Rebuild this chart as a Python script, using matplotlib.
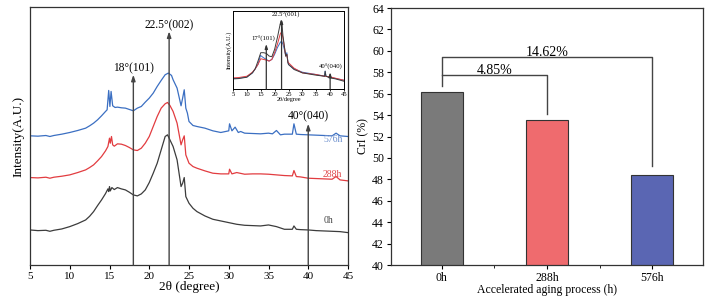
import matplotlib
matplotlib.use("Agg")
import matplotlib.pyplot as plt
from matplotlib.ticker import MultipleLocator, FixedLocator

plt.rcParams['font.family'] = ['Liberation Serif', 'DejaVu Serif']
plt.rcParams['mathtext.fontset'] = 'stix'

# ---------------- XRD data (arbitrary units) ----------------
x_0h = [5, 6, 7, 7.5, 8, 9, 10, 11, 12, 12.5, 13, 13.5, 14, 14.5, 14.8, 14.9, 15.0, 15.1, 15.3, 15.6, 16, 16.5, 17,
        17.5, 18, 18.5, 19, 19.5, 20, 20.5, 21, 21.5, 22, 22.3, 22.6, 23, 23.5, 24, 24.2, 24.4, 24.6, 25, 25.5, 26, 27,
        28, 29, 30, 31, 32, 33, 34, 35, 36, 37, 38, 38.2, 38.5, 39, 40, 41, 42, 43, 44, 45]
y_0h = [105, 103, 104, 101, 104, 108, 115, 124, 135, 146, 160, 178, 195, 214, 228, 220, 235, 222, 232, 226, 232, 228, 225,
        218, 210, 207, 213, 225, 247, 275, 305, 345, 385, 390, 375, 355, 315, 235, 245, 262, 205, 185, 170, 160, 147,
        137, 132, 127, 122, 119, 118, 117, 120, 115, 107, 107, 117, 107, 106, 105, 103, 102, 101, 100, 97]

x_288h = [5, 6, 7, 7.5, 8, 9, 10, 11, 12, 12.5, 13, 13.5, 14, 14.5, 14.8, 15.0, 15.1, 15.25, 15.4, 15.6, 16, 16.5, 17,
          17.5, 18, 18.5, 19, 19.5, 20, 20.5, 21, 21.5, 22, 22.3, 22.6, 23, 23.5, 24, 24.2, 24.4, 24.6, 25, 25.5, 26, 27,
          28, 29, 30, 30.1, 30.4, 31, 32, 33, 34, 35, 36, 37, 38, 38.2, 38.5, 39, 40, 41, 42, 43, 43.5, 44, 45]
y_288h = [262, 261, 263, 260, 263, 266, 270, 277, 285, 292, 300, 312, 325, 342, 355, 380, 365, 385, 360, 356, 363, 362, 358,
          352, 345, 343, 350, 365, 385, 415, 445, 470, 483, 487, 478, 460, 425, 360, 375, 387, 330, 305, 295, 290, 282,
          275, 273, 273, 287, 273, 277, 272, 273, 273, 272, 270, 268, 267, 283, 265, 264, 260, 259, 258, 257, 265, 255, 252]

x_576h = [5, 6, 7, 7.5, 8, 9, 10, 11, 12, 12.5, 13, 13.5, 14, 14.5, 14.7, 14.9, 15.05, 15.2, 15.4, 15.7, 16, 16.5, 17,
          17.5, 18, 18.5, 19, 19.5, 20, 20.5, 21, 21.5, 22, 22.4, 22.8, 23, 23.5, 24, 24.2, 24.4, 24.6, 24.8, 25, 25.5,
          26, 27, 28, 29, 30, 30.1, 30.4, 30.8, 31.2, 31.5, 32, 33, 34, 35, 35.5, 36, 36.5, 37, 38, 38.2, 38.5, 39, 40,
          41, 42, 43, 43.5, 44, 45]
y_576h = [387, 386, 388, 385, 388, 392, 397, 403, 410, 417, 425, 435, 447, 460, 465, 523, 475, 520, 477, 472, 473, 471, 470,
          466, 462, 470, 475, 488, 500, 515, 535, 553, 570, 575, 568, 555, 530, 477, 500, 525, 470, 455, 430, 418,
          415, 410, 402, 397, 402, 423, 402, 413, 397, 400, 395, 394, 393, 395, 393, 403, 390, 392, 392, 423, 392, 391, 390,
          389, 388, 387, 395, 387, 385]

# inset data (arbitrary units)
xi_0h = [5, 7, 10, 12, 13, 14, 14.8, 15, 16, 17, 18, 19, 20, 21, 22, 22.3, 22.6, 23, 23.5, 24, 24.4, 24.8, 25, 27, 30,
         35, 38, 38.2, 38.5, 40, 42, 45]
yi_0h = [30, 31, 35, 48, 60, 83, 103, 108, 108, 106, 98, 96, 118, 153, 193, 203, 198, 158, 128, 98, 103, 78, 73, 58, 48,
         41, 38, 53, 38, 33, 30, 23]
xi_288h = [5, 7, 10, 12, 13, 14, 15, 16, 17, 18, 19, 20, 21, 22, 22.5, 23, 23.5, 24, 24.4, 24.8, 25, 27, 30, 35, 38, 40,
           42, 45]
yi_288h = [33, 34, 38, 50, 60, 73, 90, 88, 86, 83, 88, 108, 133, 163, 170, 153, 125, 98, 103, 80, 78, 62, 48, 43, 38, 36,
           32, 26]
xi_576h = [5, 7, 10, 12, 13, 14, 14.9, 15.2, 16, 17, 18, 19, 20, 21, 22, 22.5, 23, 23.5, 24, 24.4, 24.8, 25, 27, 30, 35,
           38, 38.2, 38.5, 40, 42, 45]
yi_576h = [31, 32, 36, 48, 60, 73, 100, 98, 93, 88, 83, 88, 103, 123, 138, 143, 133, 118, 98, 108, 80, 73, 60, 50, 43,
           38, 53, 38, 35, 31, 26]

# ---------------- CrI data ----------------
categories = ['0h', '288h', '576h']
cri = [56.2, 53.5, 48.4]
bracket_labels = ['4.85%', '14.62%']

# ---------------- figure ----------------
fig = plt.figure(figsize=(7.08, 2.98), dpi=100)

c_black = '#3c3c3c'
c_red = '#e23c40'
c_blue = '#3b6fc2'

ax = fig.add_axes([30/708, 1-265/298, 318/708, 258/298])
ax.plot(x_0h, y_0h, color=c_black, lw=0.9)
ax.plot(x_288h, y_288h, color=c_red, lw=0.9)
ax.plot(x_576h, y_576h, color=c_blue, lw=0.9)
ax.set_xlim(5, 45)
ax.set_ylim(0, 773)
ax.set_yticks([])
ax.xaxis.set_major_locator(MultipleLocator(5))
ax.tick_params(axis='x', direction='out', length=3, width=0.8, labelsize=8, pad=2)
for s in ax.spines.values():
    s.set_linewidth(0.9)
    s.set_color('#333333')
ax.set_xlabel('2θ (degree)', fontsize=9.5, labelpad=0)
ax.set_ylabel('Intensity(A.U.)', fontsize=9.5, labelpad=4)

arrow_kw = dict(arrowstyle='-|>,head_length=0.35,head_width=0.12', color='#444444', lw=1.0,
                shrinkA=0, shrinkB=0)
for xp, top, lab, ly in [(18, 570, '18°(101)', 590), (22.5, 700, '22.5°(002)', 717), (40, 423, '40°(040)', 445)]:
    ax.annotate('', xy=(xp, top), xytext=(xp, 0), arrowprops=arrow_kw)
    ax.text(xp, ly, lab, ha='center', va='center', fontsize=8.3)

ax.text(43.1, 375, '576h', color='#6a8dcc', fontsize=7, ha='center', va='center')
ax.text(43.0, 272, '288h', color='#e0484b', fontsize=7, ha='center', va='center')
ax.text(42.6, 132, '0h', color='#444444', fontsize=7, ha='center', va='center')

# inset
axi = fig.add_axes([233/708, 1-89/298, 111/708, 78/298])
axi.plot(xi_576h, yi_576h, color=c_blue, lw=0.7)
axi.plot(xi_288h, yi_288h, color=c_red, lw=0.7)
axi.plot(xi_0h, yi_0h, color=c_black, lw=0.7)
axi.set_xlim(5, 45)
axi.set_ylim(0, 232)
axi.set_yticks([])
axi.xaxis.set_major_locator(MultipleLocator(5))
axi.tick_params(axis='x', direction='out', length=1.5, width=0.6, labelsize=4.8, pad=1)
for s in axi.spines.values():
    s.set_linewidth(0.7)
axi.set_xlabel('2θ/degree', fontsize=4.5, labelpad=0)
axi.set_ylabel('Intensity(A.U.)', fontsize=4.5, labelpad=1)
arrow_kw2 = dict(arrowstyle='-|>,head_length=0.25,head_width=0.08', color='#333333', lw=0.9,
                 shrinkA=0, shrinkB=0)
for xp, top, lab, lx, ly in [(17, 134, '17°(101)', 15.8, 150), (22.5, 208, '22.5°(001)', 24.2, 219),
                             (40, 50, '40°(040)', 40.2, 64)]:
    axi.annotate('', xy=(xp, top), xytext=(xp, 0), arrowprops=arrow_kw2)
    axi.text(lx, ly, lab, ha='center', va='center', fontsize=4.8)

# bar chart
axb = fig.add_axes([391/708, 1-265/298, 312/708, 257/298])
xpos = list(range(len(categories)))
axb.bar(xpos, cri, width=0.4, color=['#7a7a7a', '#ef6b6e', '#5a66b3'], edgecolor='#333333', linewidth=0.8)
axb.set_xlim(-0.48, 2.48)
axb.set_ylim(40, 64)
axb.yaxis.set_major_locator(MultipleLocator(2))
axb.set_xticks(xpos)
axb.set_xticklabels(categories)
axb.xaxis.set_minor_locator(FixedLocator([0.5, 1.5]))
axb.tick_params(axis='both', direction='out', length=3, width=0.8, labelsize=8.5, pad=2)
axb.tick_params(axis='x', which='minor', direction='out', length=2, width=0.6)
for s in axb.spines.values():
    s.set_linewidth(0.9)
    s.set_color('#333333')
axb.set_xlabel('Accelerated aging process (h)', fontsize=8.5, labelpad=0)
axb.set_ylabel('CrI (%)', fontsize=8.5, labelpad=2)

# brackets
lc = '#444444'
axb.plot([0, 0, 2, 2], [56.7, 59.4, 59.4, 49.2], color=lc, lw=1.0)
axb.plot([0, 0, 1, 1], [57.7, 57.7, 57.7, 54.1], color=lc, lw=1.0)
axb.text(0.5, 57.85, bracket_labels[0], ha='center', va='baseline', fontsize=10)
axb.text(1.0, 59.55, bracket_labels[1], ha='center', va='baseline', fontsize=10)

fig.savefig('out.png', dpi=100)
